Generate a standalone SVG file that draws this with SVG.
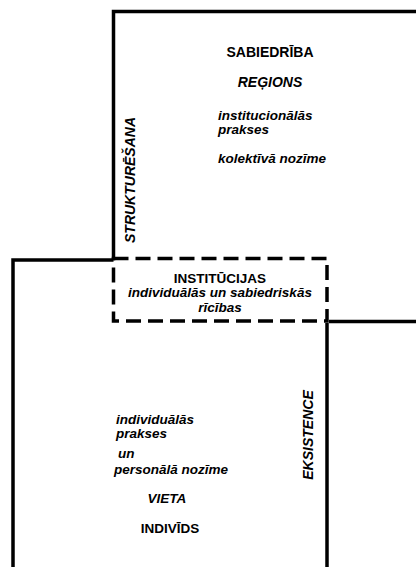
<svg xmlns="http://www.w3.org/2000/svg" width="416" height="567" viewBox="0 0 416 567">
<style>
.ln{fill:none;stroke:#000;stroke-width:3.5}
.ds{fill:none;stroke:#000;stroke-width:3.5;stroke-dasharray:15,7}
text{font-family:"Liberation Sans",Arial,sans-serif;font-weight:bold;font-size:13.5px;fill:#000}
.it{font-style:italic}
.c{text-anchor:middle}
</style>
<rect width="416" height="567" fill="#fff"/>
<g id="connectors">
<path class="ln" d="M113.5,260 V11.5 H416"/>
<path class="ln" d="M329,321.5 H416"/>
<path class="ln" d="M13,567 V260 H113.5"/>
<path class="ln" d="M327,323 V567"/>
</g>
<g id="sabiedriba">
<text class="c" x="270" y="57" style="font-size:14px">SABIEDRĪBA</text>
<text class="c it" x="270" y="87" style="font-size:14px">REĢIONS</text>
<text class="it" x="218" y="120">institucionālās</text>
<text class="it" x="218" y="134">prakses</text>
<text class="it" x="218" y="163">kolektīvā nozīme</text>
</g>
<g id="strukturesana">
<text class="c it" transform="translate(135,180) rotate(-90)" style="font-size:14px">STRUKTURĒŠANA</text>
</g>
<g id="institucijas">
<rect class="ds" x="113.5" y="258.5" width="213.5" height="62.5"/>
<text class="c" x="220" y="283">INSTITŪCIJAS</text>
<text class="c it" x="220" y="297">individuālās un sabiedriskās</text>
<text class="c it" x="220" y="312">rīcības</text>
</g>
<g id="individs">
<text class="it" x="116" y="424">individuālās</text>
<text class="it" x="116" y="438">prakses</text>
<text class="it" x="118" y="458">un</text>
<text class="it" x="114" y="474">personālā nozīme</text>
<text class="c it" x="167" y="503">VIETA</text>
<text class="c" x="170" y="533">INDIVĪDS</text>
</g>
<g id="eksistence">
<text class="c it" transform="translate(313,435) rotate(-90)" style="font-size:14px">EKSISTENCE</text>
</g>
</svg>
